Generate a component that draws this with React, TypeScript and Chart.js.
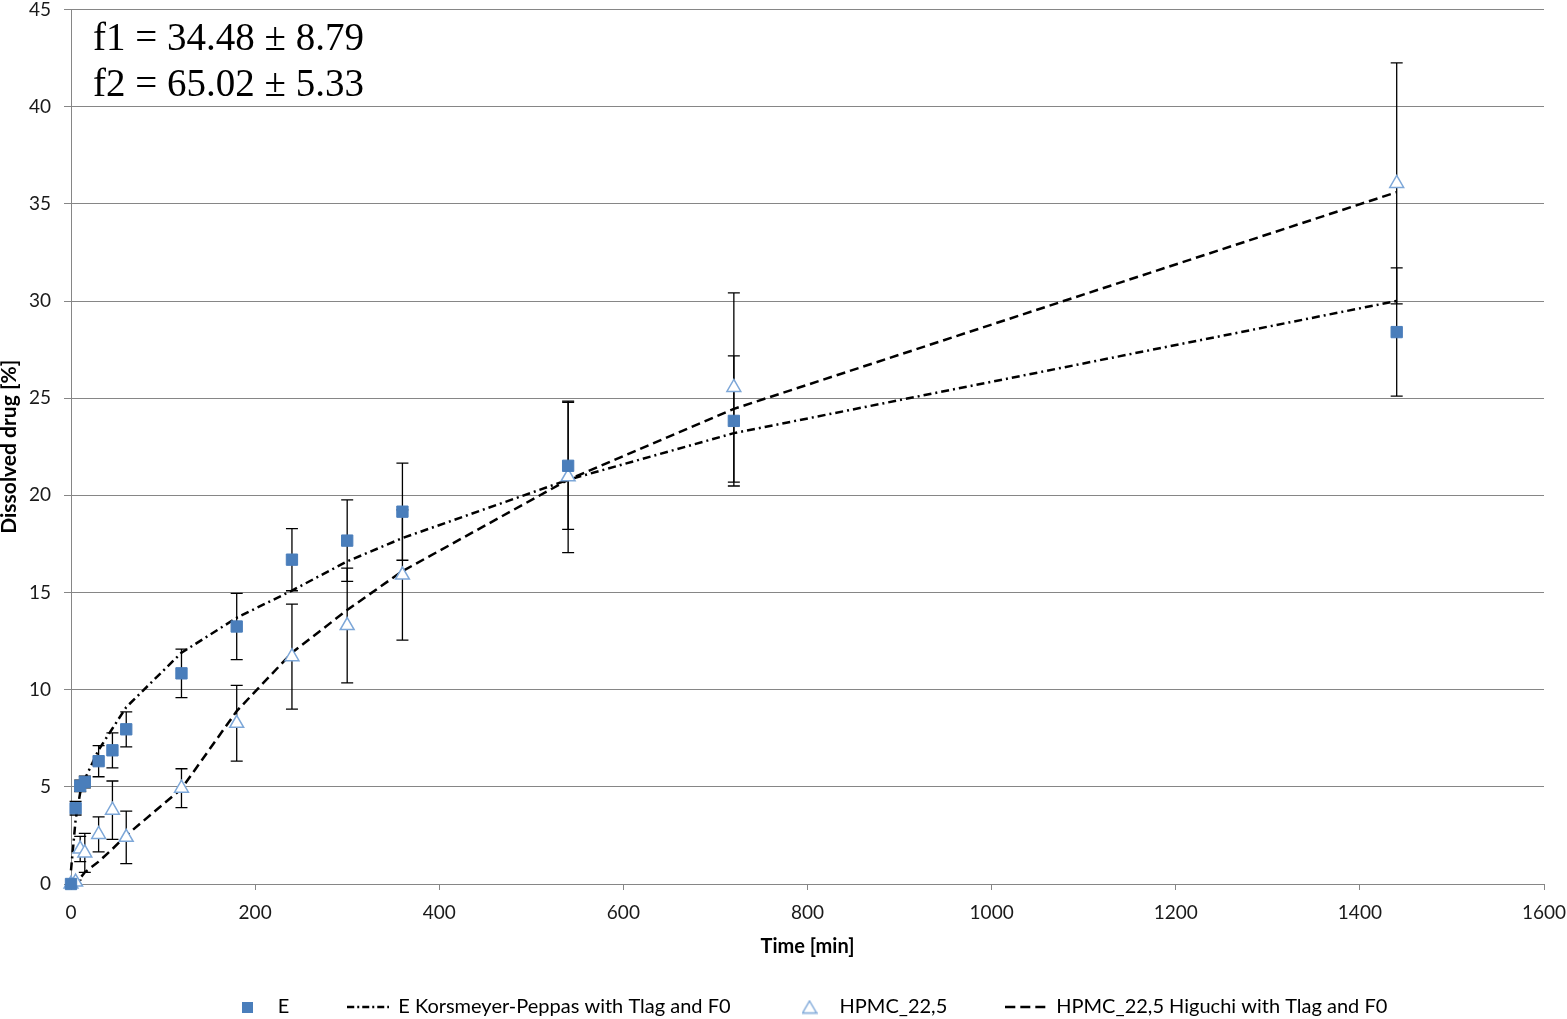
import React, { useEffect, useRef } from 'react';
import { Chart, registerables } from 'chart.js';

Chart.register(...registerables);

// ---- data ----
const times = [0, 5, 10, 15, 30, 45, 60, 120, 180, 240, 300, 360, 540, 720, 1440];
const eValues = [0, 3.9, 5.05, 5.25, 6.32, 6.88, 7.96, 10.84, 13.25, 16.69, 17.67, 19.16, 21.52, 23.83, 28.4];
const eErrors = [0, 0.35, 0.3, 0.3, 0.8, 0.9, 0.9, 1.25, 1.7, 1.6, 2.1, 2.5, 3.27, 3.35, 3.3];
const hpmcValues = [0, 0.1, 1.8, 1.6, 2.55, 3.8, 2.4, 4.93, 8.27, 11.7, 13.3, 15.9, 20.95, 25.55, 36.05];
const hpmcErrors = [0, 0.1, 0.65, 1.0, 0.9, 1.5, 1.35, 1.0, 1.95, 2.7, 2.95, 3.35, 3.9, 4.87, 6.2];
const kpModel = [0.7, 3.3, 4.7, 5.4, 6.9, 8.0, 9.1, 11.9, 13.7, 15.1, 16.6, 17.8, 20.8, 23.2, 30.0];
const higuchiModel = [0, 0, 0.3, 0.6, 1.15, 1.8, 2.5, 4.9, 8.9, 11.9, 14.1, 16.1, 20.8, 24.45, 35.6];

const xTickValues = [0, 200, 400, 600, 800, 1000, 1200, 1400, 1600];
const yTickValues = [0, 5, 10, 15, 20, 25, 30, 35, 40, 45];

const legendLabels = [
  'E',
  'E Korsmeyer-Peppas with Tlag and F0',
  'HPMC_22,5',
  'HPMC_22,5 Higuchi with Tlag and F0',
];
const annotationLines = ['f1 = 34.48 ± 8.79', 'f2 = 65.02 ± 5.33'];
const xTitle = 'Time [min]';
const yTitle = 'Dissolved drug [%]';

// ---- styles ----
const SANS = 'Lato, "Open Sans", sans-serif';
const SERIF = '"Liberation Serif", "Times New Roman", serif';
const BLUE = '#4A7EBB';
const TRI = '#7DA7D8';
const GRID = '#868686';

function toPoints(values: number[]) {
  return times.map((t, i) => ({ x: t, y: values[i] }));
}

function makeIcon(kind: string): HTMLCanvasElement {
  const c = document.createElement('canvas');
  const ctx = c.getContext('2d')!;
  if (kind === 'square') {
    c.width = 11; c.height = 11;
    ctx.fillStyle = BLUE;
    ctx.fillRect(0, 0, 11, 11);
  } else if (kind === 'triangle') {
    c.width = 16; c.height = 15;
    ctx.beginPath();
    ctx.moveTo(8, 1.5); ctx.lineTo(15, 13.5); ctx.lineTo(1, 13.5); ctx.closePath();
    ctx.fillStyle = '#fff'; ctx.fill();
    ctx.strokeStyle = TRI; ctx.lineWidth = 1.4; ctx.stroke();
  } else {
    c.width = 42; c.height = 4;
    ctx.strokeStyle = '#000'; ctx.lineWidth = 2.5;
    ctx.setLineDash(kind === 'dashdot' ? [7, 3, 2, 3] : [10, 5]);
    ctx.beginPath(); ctx.moveTo(0, 2); ctx.lineTo(42, 2); ctx.stroke();
  }
  return c;
}

const errorBarPlugin = {
  id: 'errorBars',
  beforeDatasetsDraw(chart: any) {
    const { ctx, scales } = chart;
    const xs = scales.x, ys = scales.y;
    chart.data.datasets.forEach((ds: any, i: number) => {
      if (!ds.errors || !chart.isDatasetVisible(i)) return;
      ctx.save();
      ctx.strokeStyle = '#000';
      ctx.lineWidth = 1.3;
      ds.data.forEach((pt: any, j: number) => {
        const e = ds.errors[j];
        if (!e) return;
        const px = xs.getPixelForValue(pt.x);
        const top = ys.getPixelForValue(pt.y + e);
        const bot = ys.getPixelForValue(pt.y - e);
        ctx.beginPath();
        ctx.moveTo(px, top); ctx.lineTo(px, bot);
        ctx.moveTo(px - 6, top); ctx.lineTo(px + 6, top);
        ctx.moveTo(px - 6, bot); ctx.lineTo(px + 6, bot);
        ctx.stroke();
      });
      ctx.restore();
    });
  },
};

const annotationPlugin = {
  id: 'fAnnotation',
  afterDraw(chart: any) {
    const { ctx } = chart;
    ctx.save();
    ctx.fillStyle = '#000';
    ctx.font = `39px ${SERIF}`;
    ctx.textAlign = 'left';
    ctx.textBaseline = 'alphabetic';
    ctx.fillText(annotationLines[0], 93, 50);
    ctx.fillText(annotationLines[1], 93, 96);
    ctx.restore();
  },
};

export default function App() {
  const canvasRef = useRef<HTMLCanvasElement | null>(null);

  useEffect(() => {
    if (!canvasRef.current) return;
    const icons = [makeIcon('square'), makeIcon('dashdot'), makeIcon('triangle'), makeIcon('dashed')];
    const tickFont = { family: SANS, size: 19 };
    const legendFont = { family: SANS, size: 20 };
    const titleFont = { family: SANS, size: 20, weight: 'bold' as const };
    const yTitleFont = { family: SANS, size: 21, weight: 'bold' as const };

    const chart = new Chart(canvasRef.current, {
      type: 'scatter',
      data: {
        datasets: [
          {
            label: legendLabels[0],
            data: toPoints(eValues),
            errors: eErrors,
            pointStyle: 'rect',
            pointRadius: 8,
            pointBackgroundColor: BLUE,
            pointBorderColor: BLUE,
            pointBorderWidth: 1,
            showLine: false,
            clip: false,
            order: 0,
          } as any,
          {
            label: legendLabels[1],
            data: toPoints(kpModel),
            showLine: true,
            borderColor: '#000',
            borderWidth: 2.5,
            borderDash: [8, 4, 2, 4],
            pointRadius: 0,
            tension: 0,
            clip: false,
            order: 2,
          },
          {
            label: legendLabels[2],
            data: toPoints(hpmcValues),
            errors: hpmcErrors,
            pointStyle: 'triangle',
            pointRadius: 8,
            pointBackgroundColor: '#fff',
            pointBorderColor: TRI,
            pointBorderWidth: 1.5,
            showLine: false,
            clip: false,
            order: 1,
          } as any,
          {
            label: legendLabels[3],
            data: toPoints(higuchiModel),
            showLine: true,
            borderColor: '#000',
            borderWidth: 2.5,
            borderDash: [9, 5],
            pointRadius: 0,
            tension: 0,
            clip: false,
            order: 3,
          },
        ],
      },
      options: {
        animation: false,
        responsive: true,
        maintainAspectRatio: false,
        layout: { padding: { left: 0, right: 23, top: 8, bottom: -8 } },
        plugins: {
          tooltip: { enabled: false },
          legend: {
            position: 'bottom',
            fullSize: false,
            labels: {
              usePointStyle: true,
              pointStyleWidth: 40,
              padding: 59,
              color: '#000',
              font: legendFont,
              generateLabels: () =>
                legendLabels.map((text, i) => ({
                  text,
                  pointStyle: icons[i] as any,
                  fillStyle: 'transparent',
                  strokeStyle: 'transparent',
                  lineWidth: 0,
                  hidden: false,
                  datasetIndex: i,
                  fontColor: '#000',
                })),
            },
          },
        },
        scales: {
          x: {
            type: 'linear',
            min: 0,
            max: 1600,
            afterBuildTicks: (scale: any) => {
              scale.ticks = xTickValues.map((v) => ({ value: v }));
            },
            ticks: { font: tickFont, color: '#1a1a1a', padding: 11, callback: (v: any) => String(v) },
            grid: { drawOnChartArea: false, drawTicks: true, tickLength: 6, color: GRID },
            border: { display: true, color: GRID, width: 1 },
            title: {
              display: true,
              text: xTitle,
              font: titleFont,
              color: '#000',
              padding: { top: 0, bottom: -21 },
            },
            afterFit: (scale: any) => {
              scale.height = 54;
              scale.paddingLeft = 0;
              scale.paddingRight = 0;
            },
          },
          y: {
            type: 'linear',
            min: 0,
            max: 45,
            afterBuildTicks: (scale: any) => {
              scale.ticks = yTickValues.map((v) => ({ value: v }));
            },
            ticks: { font: tickFont, color: '#1a1a1a', padding: 13, callback: (v: any) => String(v) },
            grid: { drawTicks: true, tickLength: 7, color: GRID, lineWidth: 1 },
            border: { display: true, color: GRID, width: 1 },
            title: {
              display: true,
              text: yTitle,
              font: yTitleFont,
              color: '#000',
              padding: { top: -3, bottom: 0 },
            },
            afterFit: (scale: any) => {
              scale.width = 71;
              scale.paddingTop = 0;
              scale.paddingBottom = 0;
            },
          },
        },
      } as any,
      plugins: [errorBarPlugin, annotationPlugin],
    });

    return () => {
      chart.destroy();
    };
  }, []);

  return (
    <div style={{ position: 'fixed', left: 0, top: 0, width: '1567px', height: '1019px', background: '#fff' }}>
      <canvas ref={canvasRef} />
    </div>
  );
}
